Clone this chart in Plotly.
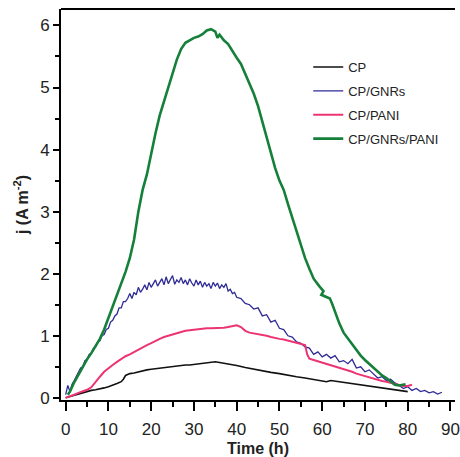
import plotly.graph_objects as go

# ---- data ----
cp_x = [0, 1, 2, 3, 4, 5, 6, 7, 8, 9, 10, 11, 12, 13, 13.5, 14, 15, 16, 17, 18, 19, 20, 21, 22, 23, 24, 25, 26, 27, 28, 29, 30, 31, 32, 33, 34, 35, 36, 37, 38, 39, 40, 42, 44, 46, 48, 50, 52, 54, 56, 58, 60, 61, 62, 63, 64, 66, 68, 70, 72, 74, 76, 78, 80]
cp_y = [0.0, 0.02, 0.05, 0.07, 0.09, 0.11, 0.12, 0.13, 0.14, 0.16, 0.18, 0.2, 0.23, 0.26, 0.3, 0.36, 0.39, 0.4, 0.42, 0.44, 0.45, 0.46, 0.47, 0.48, 0.49, 0.5, 0.5, 0.51, 0.52, 0.53, 0.53, 0.54, 0.55, 0.56, 0.57, 0.58, 0.58, 0.57, 0.56, 0.55, 0.53, 0.52, 0.49, 0.46, 0.43, 0.41, 0.39, 0.36, 0.34, 0.32, 0.3, 0.27, 0.26, 0.28, 0.27, 0.26, 0.24, 0.22, 0.2, 0.18, 0.16, 0.14, 0.12, 0.1]

gnr_x = [0, 0.5, 1, 1.5, 2, 2.5, 3, 3.5, 4, 4.5, 5, 5.5, 6, 6.5, 7, 7.5, 8, 8.5, 9, 9.5, 10, 10.5, 11, 11.5, 12, 12.5, 13, 13.5,
         14, 14.5, 15, 15.5, 16, 16.5, 17, 17.5, 18, 18.5, 19, 19.5, 20, 20.5, 21, 21.5, 22, 22.5, 23, 23.5, 24, 24.5, 25, 25.5, 26, 26.5, 27, 27.5,
         28, 28.5, 29, 29.5, 30, 30.5, 31, 31.5, 32, 32.5, 33, 33.5, 34, 34.5, 35, 35.5, 36, 36.5, 37, 37.5, 38, 38.5, 39, 39.5, 40,
         41, 42, 43, 44, 45, 46, 47, 48, 49, 50, 51, 52, 53, 54, 55, 56, 57, 58, 59, 60, 61, 62, 63, 64, 65, 66, 67, 68, 69, 70, 71, 72, 73, 74, 75, 76, 77, 78, 79, 80, 81, 82, 83, 84, 85, 86, 87, 88]
gnr_y = [0.05, 0.2, 0.1, 0.22, 0.28, 0.34, 0.4, 0.48, 0.5, 0.6, 0.62, 0.7, 0.72, 0.8, 0.82, 0.9, 0.92, 1.0, 1.02, 1.1, 1.12, 1.22, 1.25, 1.32, 1.35, 1.45, 1.45, 1.55,
         1.55, 1.6, 1.68, 1.6, 1.7, 1.66, 1.78, 1.7, 1.75, 1.82, 1.74, 1.86, 1.78, 1.84, 1.9, 1.8, 1.86, 1.92, 1.82, 1.95, 1.84, 1.9, 1.97, 1.83, 1.9, 1.86, 1.94, 1.84,
         1.9, 1.82, 1.92, 1.85, 1.8, 1.9, 1.82, 1.88, 1.78, 1.86, 1.8, 1.84, 1.76, 1.86, 1.8, 1.85, 1.76, 1.82, 1.78, 1.84, 1.72, 1.75, 1.68, 1.7, 1.62,
         1.6, 1.52, 1.5, 1.43, 1.45, 1.32, 1.34, 1.22, 1.25, 1.12, 1.1, 1.0, 0.98, 0.9, 0.88, 0.82, 0.8, 0.7, 0.74, 0.66, 0.7, 0.64, 0.68, 0.58, 0.6, 0.55, 0.62, 0.48, 0.5, 0.42, 0.45, 0.38, 0.32, 0.34, 0.28, 0.3, 0.24, 0.2, 0.15, 0.18, 0.12, 0.15, 0.1, 0.12, 0.08, 0.1, 0.06, 0.09]

pani_x = [0, 1, 2, 3, 4, 5, 6, 7, 8, 9, 10, 11, 12, 13, 14, 15, 16, 17, 18, 19, 20, 21, 22, 23, 24, 25, 26, 27, 28, 29, 30, 31, 32, 33, 34, 35, 36, 37, 38, 39, 40, 41, 42, 43, 44, 45, 46, 47, 48, 49, 50, 51, 52, 53, 54, 55, 56, 56.5, 57, 58, 59, 60, 61, 62, 63, 64, 65, 66, 67, 68, 69, 70, 71, 72, 73, 74, 75, 76, 77, 78, 79, 80, 81]
pani_y = [0.0, 0.02, 0.05, 0.08, 0.1, 0.13, 0.17, 0.26, 0.34, 0.42, 0.48, 0.53, 0.58, 0.63, 0.67, 0.7, 0.74, 0.78, 0.81, 0.85, 0.88, 0.92, 0.95, 0.98, 1.0, 1.03, 1.05, 1.06, 1.08, 1.09, 1.1, 1.11, 1.11, 1.12, 1.12, 1.12, 1.12, 1.13, 1.14, 1.15, 1.17, 1.14, 1.08, 1.05, 1.04, 1.02, 1.01, 1.0, 0.98, 0.96, 0.95, 0.94, 0.92, 0.9, 0.88, 0.86, 0.85, 0.7, 0.63, 0.61, 0.59, 0.57, 0.55, 0.53, 0.51, 0.48, 0.46, 0.44, 0.42, 0.39, 0.37, 0.34, 0.33, 0.31, 0.29, 0.27, 0.26, 0.24, 0.22, 0.21, 0.19, 0.19, 0.21]

gp_x = [0.5, 1, 2, 3, 4, 5, 6, 7, 8, 9, 10, 11, 12, 13, 14, 15, 16, 17, 18, 19, 20, 21, 22, 23, 24, 25, 26, 27, 28, 29, 30, 31, 32, 33, 34, 35, 35.5, 36, 37, 38, 39, 40, 41, 42, 43, 44, 45, 46, 47, 48, 49, 50, 51, 52, 53, 54, 55, 56, 57, 58, 59.3, 60.3, 59.8, 61.8, 62.3, 62.8, 64, 65, 66, 67, 68, 69, 70, 71, 72, 73, 74, 75, 76, 77, 78, 79, 79.5]
gp_y = [0.05, 0.1, 0.25, 0.38, 0.5, 0.62, 0.72, 0.84, 0.95, 1.1, 1.28, 1.48, 1.66, 1.85, 2.03, 2.25, 2.55, 3.0, 3.35, 3.6, 3.95, 4.26, 4.55, 4.78, 4.98, 5.2, 5.45, 5.62, 5.72, 5.76, 5.8, 5.82, 5.86, 5.92, 5.94, 5.9, 5.8, 5.85, 5.76, 5.7, 5.58, 5.48, 5.38, 5.22, 5.05, 4.9, 4.7, 4.45, 4.2, 3.95, 3.7, 3.5, 3.35, 3.12, 2.9, 2.7, 2.45, 2.25, 2.08, 1.92, 1.8, 1.72, 1.66, 1.6, 1.52, 1.42, 1.2, 1.05, 0.96, 0.85, 0.76, 0.68, 0.61, 0.55, 0.48, 0.42, 0.36, 0.32, 0.26, 0.21, 0.2, 0.22, 0.22]

names = ["CP", "CP/GNRs", "CP/PANI", "CP/GNRs/PANI"]
colors = ["#111111", "#2e2a95", "#ec3474", "#15803a"]
widths = [1.6, 1.3, 2.0, 2.6]
xs = [cp_x, gnr_x, pani_x, gp_x]
ys = [cp_y, gnr_y, pani_y, gp_y]

x_ticks = [0, 10, 20, 30, 40, 50, 60, 70, 80, 90]
y_ticks = [0, 1, 2, 3, 4, 5, 6]

FONT = "Liberation Sans, Arial, sans-serif"

fig = go.Figure()
for i, (n, c, w, x, y) in enumerate(zip(names, colors, widths, xs, ys)):
    fig.add_trace(go.Scatter(x=x, y=y, mode="lines", name=n, legendgroup="g%d" % i,
                             line=dict(color=c, width=w)))

fig.update_layout(
    width=460, height=457,
    margin=dict(l=61, r=0, t=9, b=57),
    paper_bgcolor="white", plot_bgcolor="white",
    font=dict(family=FONT, color="#222222"),
    showlegend=True,
    legend=dict(x=0.6275, y=0.89, xanchor="left", yanchor="top",
                bgcolor="rgba(0,0,0,0)", font=dict(size=13, color="#222222"),
                tracegroupgap=4),
    xaxis=dict(range=[-1.09, 91.06], tickvals=x_ticks, showgrid=False, zeroline=False,
               showline=True, linecolor="black", linewidth=2,
               ticks="outside", ticklen=9, tickwidth=2, tickcolor="black",
               tickfont=dict(size=17), ticklabelstandoff=4, ticklabeloverflow="allow",
               minor=dict(dtick=5, tick0=0, ticks="outside", ticklen=5, tickwidth=2, tickcolor="black"),
               title=dict(text="<b>Time (h)</b>", font=dict(size=16, color="#222222"), standoff=6)),
    yaxis=dict(range=[-0.035, 6.265], tickvals=y_ticks, showgrid=False, zeroline=False,
               showline=True, linecolor="black", linewidth=2,
               ticks="outside", ticklen=6, tickwidth=2, tickcolor="black",
               tickfont=dict(size=17),
               minor=dict(dtick=0.5, tick0=0, ticks="outside", ticklen=4, tickwidth=2, tickcolor="black"),
               title=dict(text="<b>j (A m<sup>-2</sup>)</b>", font=dict(size=16, color="#222222"), standoff=8)),
)
fig.add_shape(type="line", xref="paper", yref="paper", x0=0, x1=1, y0=1, y1=1,
              line=dict(color="black", width=2))

fig.write_html("out.html")
